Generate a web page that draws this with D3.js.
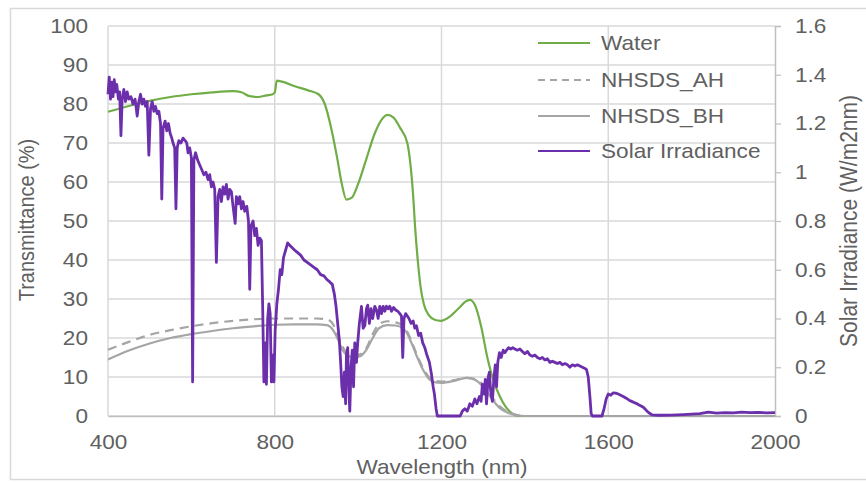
<!DOCTYPE html>
<html>
<head>
<meta charset="utf-8">
<script src="https://cdn.jsdelivr.net/npm/d3@7"></script>
<style>
  html, body { margin: 0; padding: 0; background: #fff; }
  svg { display: block; }
  text { font-family: "Liberation Sans", Arial, sans-serif; fill: #606060; }
</style>
</head>
<body>
<svg id="chart" width="866" height="483"></svg>
<script>
// Transmittance spectra (%), wavelength in nm
const waterNm  = [400,450,500,550,600,650,700,720,740,760,780,795,800,805,815,850,880,905,920,935,950,960,972,985,1000,1020,1040,1060,1070,1085,1100,1118,1126,1131,1137,1143,1150,1158,1170,1185,1198,1220,1240,1260,1268,1280,1295,1310,1325,1340,1355,1370,1385,2000];
const waterT   = [78,79.5,80.8,81.8,82.5,83,83.3,83,82,81.8,82.2,82.5,83,86,85.8,84.5,83.5,82.5,80,74,66,60,55.5,56,59.5,66,72.5,76.5,77.2,76.5,74,70,64,58,48,40,33,28.5,25.8,24.6,24.4,25.5,27.5,29.5,29.8,28.5,23,15,9,5,2.2,0.6,0,0];

const nhsdsNm  = [400,450,500,550,600,650,700,750,800,850,900,925,940,950,962,975,990,1005,1020,1035,1050,1070,1090,1110,1125,1140,1155,1170,1185,1200,1230,1260,1280,1300,1320,1340,1360,1380,1400,2000];
const nhsdsAH  = [17,19,20.8,22,23,23.8,24.4,24.8,25,25,25,24.8,23.5,21,18,16,15.5,15.8,17.5,21,23.5,24.3,24,23,20,16,12.5,10,9,8.8,9.2,9.8,9.5,8,5,2.5,1,0.3,0,0];
const nhsdsBH  = [14.5,16.8,18.6,20,21,21.8,22.5,23,23.4,23.5,23.5,23.3,22,20,17,15.5,15,15.3,17,20,22.5,23.3,23.2,22.3,19.5,15.5,12,9.5,8.6,8.5,9,9.8,9.3,7.5,4.5,2,0.8,0.2,0,0];

// Solar spectral irradiance (W/m2nm)
const solarNm = [400,403,406,409,412,415,418,421,425,428,431,434,438,442,446,450,455,460,465,470,474,478,482,486,490,494,498,502,506,510,514,518,522,526,529,532,537,541,545,549,553,556,560,563,566,570,575,580,585,589,592,596,600,603,606,610,615,620,625,630,635,640,644,648,652,656,660,664,668,672,676,680,684,688,692,696,700,705,708,712,716,720,724,728,733,737,740,743,748,752,756,760,764,768,771,774,777,780,783,786,789,792,795,798,801,805,809,813,817,821,826,831,836,842,848,855,862,870,878,886,894,902,910,918,925,932,938,943,947,951,955,958,961,964,967,970,972,975,978,980,983,986,989,992,996,999,1003,1008,1012,1016,1020,1023,1027,1031,1035,1040,1044,1048,1052,1056,1060,1064,1068,1072,1076,1080,1085,1090,1095,1100,1104,1107,1110,1114,1118,1122,1127,1132,1136,1140,1145,1150,1155,1160,1165,1171,1176,1180,1183,1187,1190,1245,1250,1256,1262,1268,1274,1280,1285,1291,1295,1298,1302,1305,1308,1312,1315,1318,1322,1326,1329,1332,1335,1339,1343,1348,1352,1356,1361,1366,1371,1376,1382,1388,1394,1400,1406,1412,1418,1424,1430,1436,1442,1448,1454,1460,1466,1472,1478,1484,1490,1496,1502,1508,1514,1520,1526,1532,1538,1544,1548,1552,1556,1559,1562,1585,1590,1595,1600,1606,1612,1618,1624,1630,1636,1643,1650,1656,1662,1667,1674,1680,1686,1692,1698,1705,1720,1750,1780,1800,1820,1840,1860,1880,1900,1920,1940,1960,1980,2000];
const solarIrr = [1.32,1.39,1.30,1.37,1.31,1.38,1.33,1.36,1.30,1.33,1.15,1.30,1.34,1.29,1.33,1.30,1.31,1.28,1.30,1.23,1.29,1.32,1.28,1.30,1.27,1.29,1.07,1.26,1.29,1.25,1.27,1.24,1.25,1.20,0.89,1.18,1.21,1.17,1.20,1.16,1.14,1.12,1.10,0.85,1.10,1.13,1.12,1.14,1.13,1.12,1.08,1.10,1.06,0.14,1.05,1.08,1.05,1.03,1.01,0.99,1.00,0.97,0.99,0.94,0.96,0.93,0.63,0.90,0.93,0.88,0.94,0.91,0.95,0.89,0.93,0.92,0.86,0.79,0.90,0.87,0.90,0.85,0.88,0.84,0.86,0.80,0.52,0.78,0.80,0.74,0.77,0.70,0.73,0.72,0.45,0.14,0.30,0.13,0.40,0.46,0.42,0.14,0.25,0.14,0.35,0.46,0.52,0.60,0.58,0.65,0.68,0.71,0.70,0.69,0.68,0.67,0.66,0.64,0.63,0.62,0.61,0.60,0.58,0.575,0.56,0.55,0.54,0.50,0.45,0.38,0.31,0.22,0.12,0.08,0.18,0.05,0.25,0.28,0.10,0.02,0.20,0.27,0.12,0.30,0.22,0.30,0.38,0.45,0.36,0.37,0.44,0.455,0.38,0.44,0.40,0.45,0.435,0.40,0.45,0.42,0.45,0.43,0.45,0.44,0.45,0.43,0.445,0.435,0.43,0.42,0.41,0.24,0.40,0.42,0.41,0.40,0.38,0.39,0.36,0.37,0.33,0.34,0.30,0.28,0.25,0.22,0.17,0.12,0.09,0.03,0,0,0.02,0.03,0.02,0.05,0.04,0.07,0.05,0.08,0.06,0.13,0.09,0.15,0.05,0.16,0.18,0.10,0.06,0.16,0.21,0.12,0.22,0.26,0.24,0.27,0.26,0.27,0.28,0.275,0.28,0.275,0.27,0.275,0.265,0.255,0.265,0.25,0.245,0.25,0.24,0.235,0.24,0.23,0.235,0.22,0.225,0.22,0.215,0.22,0.21,0.215,0.21,0.20,0.21,0.205,0.21,0.205,0.20,0.195,0.19,0.16,0.08,0.01,0,0,0.03,0.07,0.09,0.085,0.095,0.094,0.09,0.085,0.08,0.073,0.065,0.06,0.055,0.052,0.045,0.04,0.033,0.022,0.012,0.005,0.003,0.004,0.006,0.008,0.01,0.016,0.012,0.014,0.013,0.016,0.014,0.015,0.013,0.014];

const xTicks = [400, 800, 1200, 1600, 2000];
const yLeftTicks = [0,10,20,30,40,50,60,70,80,90,100];
const yRightTicks = [0,0.2,0.4,0.6,0.8,1,1.2,1.4,1.6];

const legendItems = [
  { name: "Water", color: "#70ad47", dash: null },
  { name: "NHSDS_AH", color: "#a5a5a5", dash: "7,5" },
  { name: "NHSDS_BH", color: "#a5a5a5", dash: null },
  { name: "Solar Irradiance", color: "#6c2fac", dash: null }
];

const SX = 1.13; // horizontal text stretch
const svg = d3.select("#chart");

const plotL = 108, plotR = 775, plotT = 26, plotB = 416;
const x = d3.scaleLinear().domain([400, 2000]).range([plotL, plotR]);
const yL = d3.scaleLinear().domain([0, 100]).range([plotB, plotT]);
const yR = d3.scaleLinear().domain([0, 1.6]).range([plotB, plotT]);

// outer frame
svg.append("rect").attr("x", 10.5).attr("y", 8.5).attr("width", 880).attr("height", 471)
  .attr("fill", "none").attr("stroke", "#d9d9d9").attr("stroke-width", 1.5);

// gridlines
svg.append("g").selectAll("line").data(yLeftTicks).join("line")
  .attr("x1", plotL).attr("x2", plotR)
  .attr("y1", d => yL(d)).attr("y2", d => yL(d))
  .attr("stroke", "#d9d9d9").attr("stroke-width", 1.5);
svg.append("g").selectAll("line").data(xTicks.slice(0, 4)).join("line")
  .attr("x1", d => x(d)).attr("x2", d => x(d))
  .attr("y1", plotT).attr("y2", plotB)
  .attr("stroke", "#d9d9d9").attr("stroke-width", 1.5);

// axes
const gx = svg.append("g").attr("transform", `translate(0,${plotB})`)
  .call(d3.axisBottom(x).tickValues(xTicks).tickSize(0).tickPadding(19).tickFormat(d3.format("d")));
gx.select(".domain").attr("stroke", "#bfbfbf").attr("stroke-width", 1.5);

const gl = svg.append("g").attr("transform", `translate(${plotL},0)`)
  .call(d3.axisLeft(yL).tickValues(yLeftTicks).tickSize(0).tickPadding(17.7));
gl.select(".domain").remove();

const gr = svg.append("g").attr("transform", `translate(${plotR},0)`)
  .call(d3.axisRight(yR).tickValues(yRightTicks).tickSize(6).tickPadding(11.7)
    .tickFormat(d => String(+d.toFixed(1))));
gr.select(".domain").attr("stroke", "#bfbfbf").attr("stroke-width", 1.5);
gr.selectAll(".tick line").attr("stroke", "#bfbfbf").attr("stroke-width", 1.2);

[gx, gl, gr].forEach(g => {
  g.selectAll("text")
    .attr("font-family", "Liberation Sans, Arial, sans-serif")
    .attr("font-size", 20)
    .attr("fill", "#606060")
    .attr("transform", `scale(${SX},1)`);
});
gx.selectAll(".tick text").attr("x", 0);

// series
const pctLine = d3.line().curve(d3.curveMonotoneX);
const waterPts = waterNm.map((n, i) => [x(n), yL(waterT[i])]);
const ahPts = nhsdsNm.map((n, i) => [x(n), yL(nhsdsAH[i])]);
const bhPts = nhsdsNm.map((n, i) => [x(n), yL(nhsdsBH[i])]);
const solarPts = solarNm.map((n, i) => [x(n), yR(solarIrr[i])]);

svg.append("path").attr("d", pctLine(waterPts)).attr("fill", "none")
  .attr("stroke", "#70ad47").attr("stroke-width", 2.2);
svg.append("path").attr("d", pctLine(ahPts)).attr("fill", "none")
  .attr("stroke", "#a5a5a5").attr("stroke-width", 2.2).attr("stroke-dasharray", "9,6");
svg.append("path").attr("d", pctLine(bhPts)).attr("fill", "none")
  .attr("stroke", "#a5a5a5").attr("stroke-width", 2.2);
svg.append("path").attr("d", d3.line()(solarPts)).attr("fill", "none")
  .attr("stroke", "#6c2fac").attr("stroke-width", 2.8).attr("stroke-linejoin", "round");

// legend
const legendY = [43, 80, 116, 151];
const lg = svg.append("g");
legendItems.forEach((it, i) => {
  lg.append("line").attr("x1", 538).attr("x2", 590).attr("y1", legendY[i]).attr("y2", legendY[i])
    .attr("stroke", it.color).attr("stroke-width", 2.2)
    .attr("stroke-dasharray", it.dash);
  lg.append("text").attr("transform", `translate(601,${legendY[i]}) scale(${SX},1)`)
    .attr("dy", "0.35em").attr("font-size", 20).text(it.name);
});

// axis titles
svg.append("text").attr("transform", `translate(442,474) scale(${SX},1)`)
  .attr("text-anchor", "middle").attr("font-size", 20).text("Wavelength (nm)");
svg.append("text").attr("transform", `translate(34,220) scale(${SX},1) rotate(-90)`)
  .attr("text-anchor", "middle").attr("font-size", 20).text("Transmittance (%)");
svg.append("text").attr("transform", `translate(857,221) scale(${SX},1) rotate(-90)`)
  .attr("text-anchor", "middle").attr("font-size", 21).text("Solar Irradiance (W/m2nm)");
</script>
</body>
</html>
